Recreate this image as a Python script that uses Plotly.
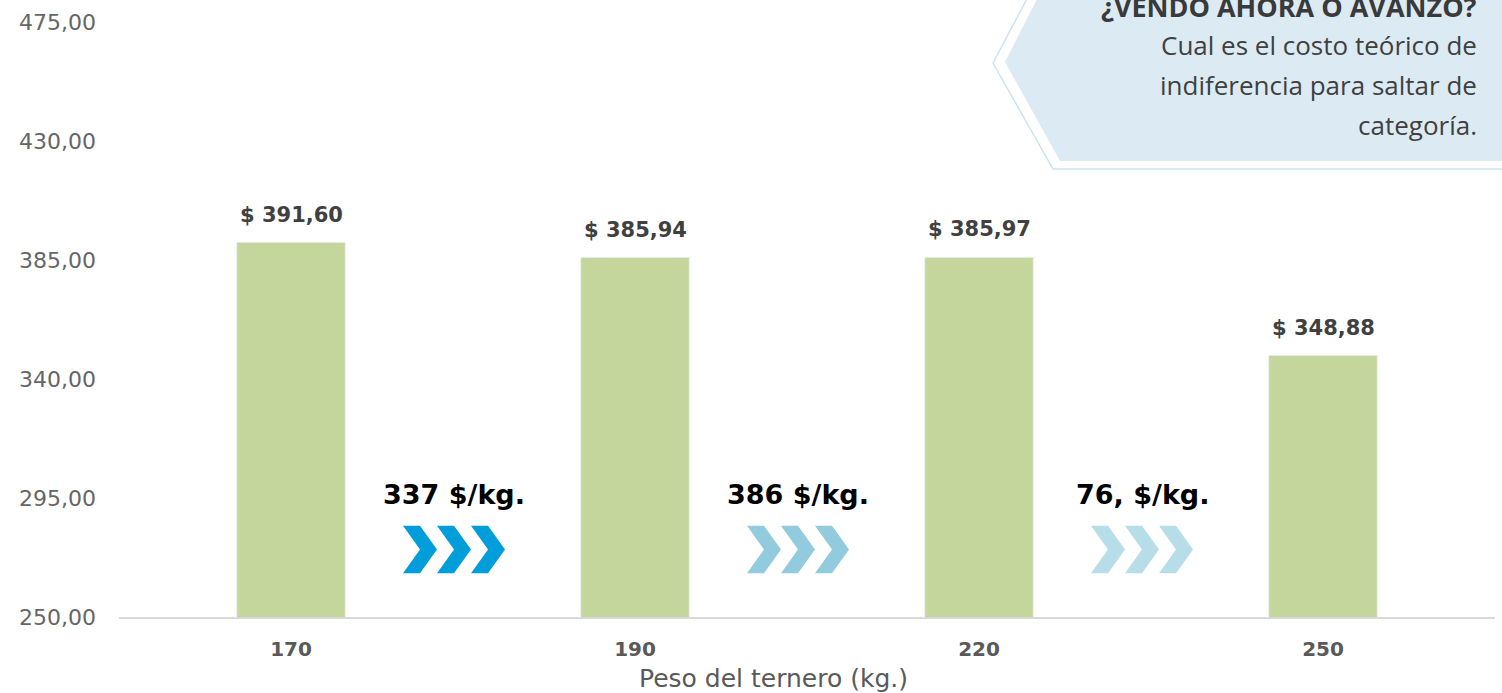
import plotly.graph_objects as go

# ---- data ----
categories = ["170", "190", "220", "250"]
values = [391.60, 385.94, 385.97, 348.88]
step_labels = ["337 $/kg.", "386 $/kg.", "76, $/kg."]
step_colors = ["#009DDB", "#92CBDD", "#B6DDE8"]
y_ticks = [250, 295, 340, 385, 430, 475]
callout_title = "¿VENDO AHORA O AVANZO?"
callout_lines = ["Cual es el costo teórico de", "indiferencia para saltar de", "categoría."]
x_title = "Peso del ternero (kg.)"

def fmt_es(v):
    s = f"{v:,.2f}"
    return s.replace(",", "X").replace(".", ",").replace("X", ".")

W, H = 1502, 693
L, R, T, B = 119, 7, 22, 76
PW, PH = W - L - R, H - T - B

def px(x):  # page pixel x -> paper
    return (x - L) / PW

def py(y):  # page pixel y -> paper
    return (H - B - y) / PH

fig = go.Figure()
fig.add_trace(go.Bar(
    x=categories, y=values, marker_color="#C4D69C", width=0.315,
    hoverinfo="x+y", showlegend=False,
))

annotations = []
for i, v in enumerate(values):
    annotations.append(dict(
        x=i, y=v, xref="x", yref="y", text="<b>$ " + fmt_es(v) + "</b>",
        showarrow=False, yanchor="bottom", yshift=14,
        font=dict(family="DejaVu Sans", size=21, color="#404040"),
    ))

shapes = []
cat_px = PW / len(categories)          # pixels per category
chev_w = 34 / cat_px
chev_stroke = 17 / cat_px
chev_top = 284.5
chev_bot = 266.5
chev_mid = (chev_top + chev_bot) / 2
for i, (lab, col) in enumerate(zip(step_labels, step_colors)):
    center = i + 0.5 - 9 / cat_px
    annotations.append(dict(
        x=center, y=296.5, xref="x", yref="y", text="<b>" + lab + "</b>",
        showarrow=False, font=dict(family="DejaVu Sans", size=27, color="#000000"),
    ))
    start = center - 1.5 * chev_w
    for k in range(3):
        x0 = start + k * chev_w
        path = (f"M {x0},{chev_top} L {x0 + chev_stroke},{chev_top} "
                f"L {x0 + chev_w},{chev_mid} L {x0 + chev_stroke},{chev_bot} "
                f"L {x0},{chev_bot} L {x0 + chev_w - chev_stroke},{chev_mid} Z")
        shapes.append(dict(type="path", xref="x", yref="y", path=path,
                           fillcolor=col, line=dict(width=0), layer="above"))

# callout box (decoration, in paper coords)
outline = (f"M {px(1530)},{py(-5)} L {px(1029)},{py(-5)} L {px(993)},{py(63)} "
           f"L {px(1053)},{py(169)} L {px(1530)},{py(169)}")
shapes.append(dict(type="path", xref="paper", yref="paper", path=outline,
                   fillcolor="rgba(0,0,0,0)", line=dict(color="#CDE5EE", width=1.5),
                   layer="above"))
fill = (f"M {px(1530)},{py(-5)} L {px(1039)},{py(-5)} L {px(1005)},{py(62)} "
        f"L {px(1060)},{py(161)} L {px(1530)},{py(161)} Z")
shapes.append(dict(type="path", xref="paper", yref="paper", path=fill,
                   fillcolor="#DCEBF3", line=dict(width=0), layer="above"))

annotations.append(dict(
    x=px(1479), y=py(6), xref="paper", yref="paper", xanchor="right", yanchor="middle",
    text="<b>" + callout_title + "</b>", showarrow=False,
    font=dict(family="Open Sans", size=27, color="#3A3A3A"),
))
for j, line in enumerate(callout_lines):
    annotations.append(dict(
        x=px(1479), y=py(45 + 40 * j), xref="paper", yref="paper",
        xanchor="right", yanchor="middle", text=line, showarrow=False,
        font=dict(family="Open Sans", size=26, color="#404040"),
    ))

annotations.append(dict(
    x=px(773), y=py(678), xref="paper", yref="paper", text=x_title, showarrow=False,
    yanchor="middle", font=dict(family="DejaVu Sans", size=25, color="#595959"),
))

fig.update_layout(
    width=W, height=H,
    margin=dict(l=L, r=R, t=T, b=B, autoexpand=False),
    paper_bgcolor="white", plot_bgcolor="white",
    xaxis=dict(
        type="category", showgrid=False, showline=True, linecolor="#D9D9D9",
        linewidth=2, ticks="", tickfont=dict(family="DejaVu Sans", size=20, color="#595959"),
        tickvals=categories, ticktext=["<b>" + c + "</b>" for c in categories],
        ticklabelstandoff=13, range=[-0.5, 3.5], automargin=False,
    ),
    yaxis=dict(
        range=[y_ticks[0], y_ticks[-1]], tickvals=y_ticks,
        ticktext=[fmt_es(t) for t in y_ticks], showgrid=False, zeroline=False,
        showline=False, ticks="", ticklabelstandoff=22, automargin=False,
        tickfont=dict(family="DejaVu Sans", size=22, color="#666666"),
    ),
    shapes=shapes, annotations=annotations,
)

fig.write_html(
    "out.html",
    config={"displayModeBar": False},
    post_script="document.body.style.margin='0';document.body.style.overflow='hidden';",
)
